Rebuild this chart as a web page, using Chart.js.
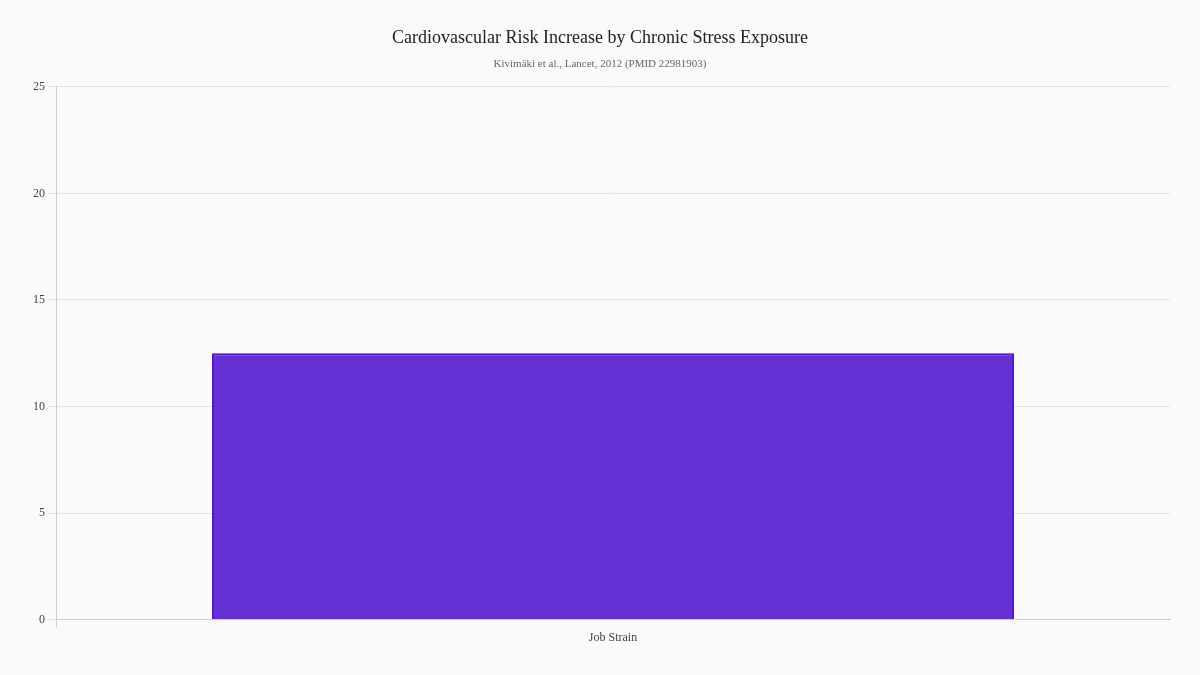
<!DOCTYPE html>
<html>
<head>
<meta charset="utf-8">
<script src="https://cdn.jsdelivr.net/npm/chart.js@4"></script>
<style>
  html, body { margin: 0; padding: 0; background: #fafafa; }
  #wrap { width: 1200px; height: 675px; }
</style>
</head>
<body>
<div id="wrap"><canvas id="myChart"></canvas></div>
<script>
const categories = ["Job Strain"];
const riskIncrease = [12.5];
const yMax = 25;
const yStep = 5;

const ctx = document.getElementById("myChart").getContext("2d");
const serif = "'Liberation Serif', 'DejaVu Serif', serif";

const chart = new Chart(ctx, {
  type: "bar",
  data: {
    labels: categories,
    datasets: [
      {
        label: "Risk increase (%)",
        data: riskIncrease,
        backgroundColor: "#6430d4",
        borderColor: "#4a14cc",
        borderWidth: 2,
      },
    ],
  },
  options: {
    responsive: true,
    maintainAspectRatio: false,
    animation: false,
    layout: { padding: { left: 30, right: 30, top: 10, bottom: 27 } },
    plugins: {
      legend: { display: false },
      title: {
        display: true,
        text: "Cardiovascular Risk Increase by Chronic Stress Exposure",
        color: "#222",
        font: { family: serif, size: 18, weight: "normal" },
        padding: { top: 17, bottom: 9 },
      },
      subtitle: {
        display: true,
        text: "Kivimäki et al., Lancet, 2012 (PMID 22981903)",
        color: "#666",
        font: { family: serif, size: 11 },
        padding: { bottom: 16 },
      },
    },
    scales: {
      x: {
        // only the left edge tick shows below the axis
        grid: {
          drawOnChartArea: false,
          color: (c) => (c.index === 0 ? "#d0d0d0" : "rgba(0,0,0,0)"),
        },
        border: { color: "#ccc" },
        ticks: { color: "#444", font: { family: serif, size: 12 } },
      },
      y: {
        min: 0,
        max: yMax,
        ticks: { stepSize: yStep, color: "#444", font: { family: serif, size: 12 } },
        grid: { color: "#e4e4e4" },
        border: { color: "#ccc" },
      },
    },
  },
});
</script>
</body>
</html>
